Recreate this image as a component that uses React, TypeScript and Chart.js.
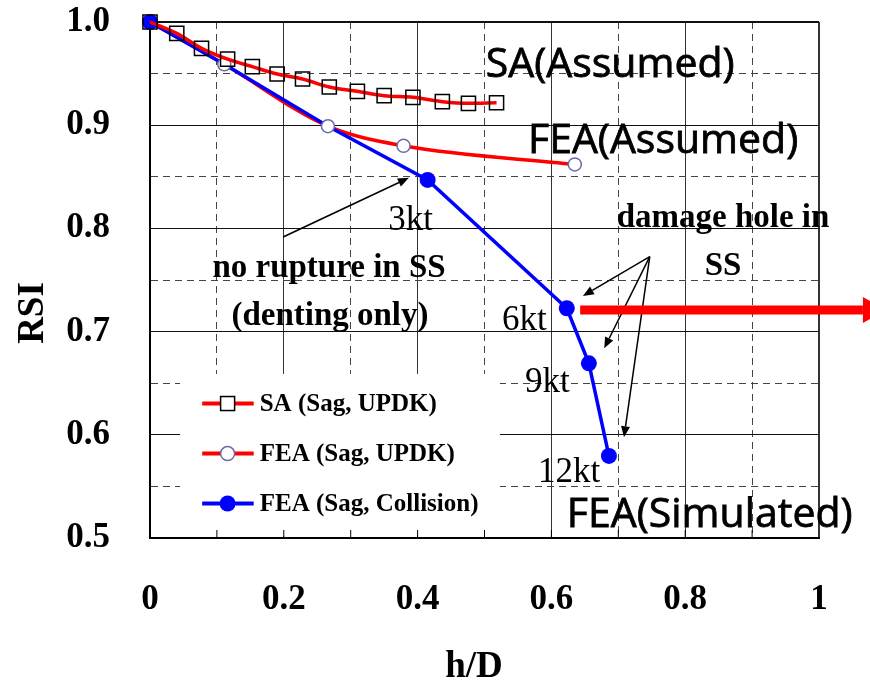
import React, { useEffect, useRef } from 'react';
import { Chart, registerables } from 'chart.js';

Chart.register(...registerables);

// ---------- data ----------
const saX = [0, 0.04, 0.077, 0.116, 0.153, 0.19, 0.228, 0.268, 0.31, 0.35, 0.393, 0.437, 0.476, 0.518];
const saY = [1.0, 0.989, 0.9745, 0.964, 0.9567, 0.9496, 0.9448, 0.937, 0.9328, 0.9286, 0.927, 0.9228, 0.9212, 0.9218];

const feaUpdkX = [0, 0.111, 0.266, 0.379, 0.635];
const feaUpdkY = [1.0, 0.959, 0.899, 0.88, 0.862];
const feaUpdkMarked = [false, true, true, true, true];

const collisionX = [0, 0.111, 0.266, 0.415, 0.623, 0.656, 0.686];
const collisionY = [1.0, 0.959, 0.899, 0.847, 0.7226, 0.6693, 0.5795];
const collisionMarked = [true, false, false, true, true, true, true];

const seriesLabels = ['SA (Sag, UPDK)', 'FEA (Sag, UPDK)', 'FEA (Sag, Collision)'];

const speedLabels = ['3kt', '6kt', '9kt', '12kt'];
const speedLabelX = [0.356, 0.526, 0.5605, 0.58];
const speedLabelY = [0.7984, 0.7016, 0.6415, 0.5543];

const bigLabels = ['SA(Assumed)', 'FEA(Assumed)', 'FEA(Simulated)'];
const bigLabelX = [0.502, 0.565, 0.623];
const bigLabelY = [0.9467, 0.873, 0.5107];

const noteLines = ['no rupture in SS', '(denting only)', 'damage hole in', 'SS'];
const noteX = [0.2676, 0.269, 0.8565, 0.8565];
const noteY = [0.7529, 0.7064, 0.8014, 0.7548];

const xTitle = 'h/D';
const yTitle = 'RSI';

const pts = (xs: number[], ys: number[]) => xs.map((x, i) => ({ x, y: ys[i] }));

const SERIF = '"Liberation Serif", "Times New Roman", serif';
const SANS = '"Open Sans", "DejaVu Sans", sans-serif';

function arrow(ctx: CanvasRenderingContext2D, x1: number, y1: number, x2: number, y2: number,
  color: string, width: number, headLen: number, headHalf: number) {
  const a = Math.atan2(y2 - y1, x2 - x1);
  const bx = x2 - headLen * Math.cos(a);
  const by = y2 - headLen * Math.sin(a);
  ctx.save();
  ctx.strokeStyle = color;
  ctx.lineWidth = width;
  ctx.beginPath();
  ctx.moveTo(x1, y1);
  ctx.lineTo(bx, by);
  ctx.stroke();
  ctx.fillStyle = color;
  ctx.beginPath();
  ctx.moveTo(x2, y2);
  ctx.lineTo(bx + headHalf * Math.sin(a), by - headHalf * Math.cos(a));
  ctx.lineTo(bx - headHalf * Math.sin(a), by + headHalf * Math.cos(a));
  ctx.closePath();
  ctx.fill();
  ctx.restore();
}

const isMajorY = (v: number) => Math.round(v * 20) % 2 === 0;
const isMajorX = (v: number) => Math.round(v * 10) % 2 === 0;

const overlayPlugin = {
  id: 'overlay',
  beforeDatasetsDraw(chart: any) {
    const ctx: CanvasRenderingContext2D = chart.ctx;
    const xs = chart.scales.x;
    const ys = chart.scales.y;
    // legend box (data-space corners)
    const bx0 = xs.getPixelForValue(0.045);
    const bx1 = xs.getPixelForValue(0.523);
    const by0 = ys.getPixelForValue(0.659);
    const by1 = ys.getPixelForValue(0.5) - 2;
    ctx.save();
    ctx.fillStyle = '#fff';
    ctx.fillRect(bx0, by0, bx1 - bx0, by1 - by0);
    // inward bottom ticks
    ctx.strokeStyle = '#000';
    ctx.lineWidth = 1;
    for (let i = 1; i < 10; i++) {
      const px = xs.getPixelForValue(i / 10);
      ctx.beginPath();
      ctx.moveTo(px, ys.bottom);
      ctx.lineTo(px, ys.bottom - 8);
      ctx.stroke();
    }
    // legend items
    const rowsY = [0.6303, 0.5818, 0.5334];
    const lx0 = xs.getPixelForValue(0.078);
    const lx1 = xs.getPixelForValue(0.155);
    const lm = xs.getPixelForValue(0.116);
    const tx = xs.getPixelForValue(0.164);
    chart.data.datasets.filter((d: any) => d.legendRow !== undefined).forEach((d: any) => {
      const py = ys.getPixelForValue(rowsY[d.legendRow]);
      ctx.strokeStyle = d.borderColor;
      ctx.lineWidth = 4;
      ctx.beginPath();
      ctx.moveTo(lx0, py);
      ctx.lineTo(lx1, py);
      ctx.stroke();
      ctx.lineWidth = 1.5;
      if (d.legendMarker === 'rect') {
        ctx.fillStyle = '#fff';
        ctx.fillRect(lm - 7, py - 7, 14, 14);
        ctx.strokeStyle = '#000';
        ctx.strokeRect(lm - 7, py - 7, 14, 14);
      } else if (d.legendMarker === 'open') {
        ctx.fillStyle = '#fff';
        ctx.strokeStyle = '#6b6ba8';
        ctx.beginPath();
        ctx.arc(lm, py, 7, 0, Math.PI * 2);
        ctx.fill();
        ctx.stroke();
      } else {
        ctx.fillStyle = '#0000ff';
        ctx.beginPath();
        ctx.arc(lm, py, 8, 0, Math.PI * 2);
        ctx.fill();
      }
      ctx.fillStyle = '#000';
      ctx.font = `bold 25px ${SERIF}`;
      ctx.textAlign = 'left';
      ctx.textBaseline = 'middle';
      ctx.fillText(d.label, tx, py + 1);
    });
    ctx.restore();
  },
  afterDatasetsDraw(chart: any) {
    const ctx: CanvasRenderingContext2D = chart.ctx;
    const xs = chart.scales.x;
    const ys = chart.scales.y;
    const X = (v: number) => xs.getPixelForValue(v);
    const Y = (v: number) => ys.getPixelForValue(v);
    ctx.save();
    ctx.fillStyle = '#000';
    ctx.strokeStyle = '#000';
    ctx.textBaseline = 'alphabetic';
    // big sans labels (slightly emboldened)
    ctx.font = `41px ${SANS}`;
    ctx.textAlign = 'left';
    ctx.lineWidth = 0.8;
    bigLabels.forEach((t, i) => {
      ctx.fillText(t, X(bigLabelX[i]), Y(bigLabelY[i]));
      ctx.strokeText(t, X(bigLabelX[i]), Y(bigLabelY[i]));
    });
    // speed labels
    ctx.font = `35px ${SERIF}`;
    speedLabels.forEach((t, i) => ctx.fillText(t, X(speedLabelX[i]), Y(speedLabelY[i])));
    // notes
    ctx.font = `bold 33px ${SERIF}`;
    ctx.textAlign = 'center';
    noteLines.forEach((t, i) => ctx.fillText(t, X(noteX[i]), Y(noteY[i])));
    // arrows
    arrow(ctx, X(0.199), Y(0.7917), X(0.387), Y(0.849), '#000', 1.5, 11, 4.5);
    const ax = X(0.747), ay = Y(0.7726);
    arrow(ctx, ax, ay, X(0.647), Y(0.7345), '#000', 1.5, 11, 4.5);
    arrow(ctx, ax, ay, X(0.679), Y(0.6838), '#000', 1.5, 11, 4.5);
    arrow(ctx, ax, ay, X(0.7085), Y(0.5976), '#000', 1.5, 11, 4.5);
    // big red arrow
    arrow(ctx, X(0.643), Y(0.721), X(1.1), Y(0.721), '#ff0000', 9, 23, 13);
    ctx.restore();
  },
  afterDraw(chart: any) {
    const ctx: CanvasRenderingContext2D = chart.ctx;
    ctx.save();
    ctx.fillStyle = '#000';
    ctx.font = `bold 37px ${SERIF}`;
    ctx.textAlign = 'center';
    ctx.textBaseline = 'alphabetic';
    ctx.fillText(xTitle, 474, 677);
    ctx.translate(43, 313);
    ctx.rotate(-Math.PI / 2);
    ctx.fillText(yTitle, 0, 0);
    ctx.restore();
  },
};

const zeroPad = (s: any) => {
  s.paddingTop = 0;
  s.paddingBottom = 0;
  s.paddingLeft = 0;
  s.paddingRight = 0;
};

export default function App() {
  const ref = useRef<HTMLCanvasElement | null>(null);
  useEffect(() => {
    document.body.style.margin = '0';
    const canvas = ref.current;
    if (!canvas) return;
    const tickFont = { family: SERIF, weight: 'bold' as const, size: 35 };
    const chart = new Chart(canvas, {
      type: 'line',
      data: {
        datasets: [
          {
            label: seriesLabels[0],
            data: pts(saX, saY),
            borderColor: '#ff0000',
            borderWidth: 3.5,
            cubicInterpolationMode: 'monotone',
            pointStyle: 'rect',
            pointRadius: 10,
            pointBorderColor: '#000',
            pointBorderWidth: 1.5,
            pointBackgroundColor: 'rgba(0,0,0,0)',
            clip: false,
            legendRow: 0,
            legendMarker: 'rect',
          } as any,
          {
            label: seriesLabels[1] + ' markers',
            data: pts(feaUpdkX, feaUpdkY),
            showLine: false,
            borderColor: '#6b6ba8',
            pointRadius: feaUpdkMarked.map((m) => (m ? 6.5 : 0)),
            pointBorderColor: '#6b6ba8',
            pointBorderWidth: 1.5,
            pointBackgroundColor: '#ffffff',
            clip: false,
          } as any,
          {
            label: seriesLabels[2],
            data: pts(collisionX, collisionY),
            borderColor: '#0000ff',
            borderWidth: 3.5,
            tension: 0,
            pointRadius: collisionMarked.map((m) => (m ? 8 : 0)),
            pointBorderColor: '#0000ff',
            pointBackgroundColor: '#0000ff',
            pointBorderWidth: 0,
            clip: false,
            legendRow: 2,
            legendMarker: 'filled',
          } as any,
          {
            label: seriesLabels[1],
            data: pts(feaUpdkX, feaUpdkY),
            borderColor: '#ff0000',
            borderWidth: 3.5,
            cubicInterpolationMode: 'monotone',
            pointRadius: 0,
            clip: false,
            legendRow: 1,
            legendMarker: 'open',
          } as any,
        ],
      },
      options: {
        responsive: false,
        animation: false,
        events: [],
        layout: { padding: { left: 0, top: 22, right: 51, bottom: 0 } },
        plugins: { legend: { display: false }, tooltip: { enabled: false } },
        scales: {
          x: {
            type: 'linear',
            min: 0,
            max: 1,
            afterFit: (s: any) => { s.height = 143; zeroPad(s); },
            ticks: {
              stepSize: 0.1,
              autoSkip: false,
              maxRotation: 0,
              padding: 41,
              color: '#000',
              font: tickFont,
              callback: (v: any) => {
                const n = Math.round(Number(v) * 10);
                if (n % 2 !== 0) return '';
                if (n === 0) return '0';
                if (n === 10) return '1';
                return (n / 10).toFixed(1);
              },
            },
            grid: {
              drawTicks: false,
              color: (c: any) => (c.tick && isMajorX(c.tick.value) ? '#333' : '#444'),
              lineWidth: (c: any) => (c.tick && Math.abs(c.tick.value - 1) < 1e-6 ? 2 : 1),
            },
            border: {
              display: true,
              color: '#000',
              width: 2,
              dash: (c: any) => (c.tick && !isMajorX(c.tick.value) ? [7, 5] : []),
            },
          },
          y: {
            type: 'linear',
            min: 0.5,
            max: 1.0,
            afterFit: (s: any) => { s.width = 150; zeroPad(s); },
            ticks: {
              stepSize: 0.05,
              autoSkip: false,
              padding: 40,
              color: '#000',
              font: tickFont,
              callback: (v: any) => {
                const n = Math.round(Number(v) * 20);
                return n % 2 === 0 ? (n / 20).toFixed(1) : '';
              },
            },
            grid: {
              drawTicks: false,
              color: (c: any) => (c.tick && isMajorY(c.tick.value) ? '#111' : '#444'),
              lineWidth: (c: any) => (c.tick && Math.abs(c.tick.value - 1) < 1e-6 ? 2 : 1),
            },
            border: {
              display: true,
              color: '#000',
              width: 2,
              dash: (c: any) => (c.tick && !isMajorY(c.tick.value) ? [7, 5] : []),
            },
          },
        },
      } as any,
      plugins: [overlayPlugin],
    });
    return () => chart.destroy();
  }, []);
  return (
    <div style={{ position: 'absolute', left: 0, top: 0, width: 870, height: 681, background: '#fff' }}>
      <canvas ref={ref} width={870} height={681} />
    </div>
  );
}
